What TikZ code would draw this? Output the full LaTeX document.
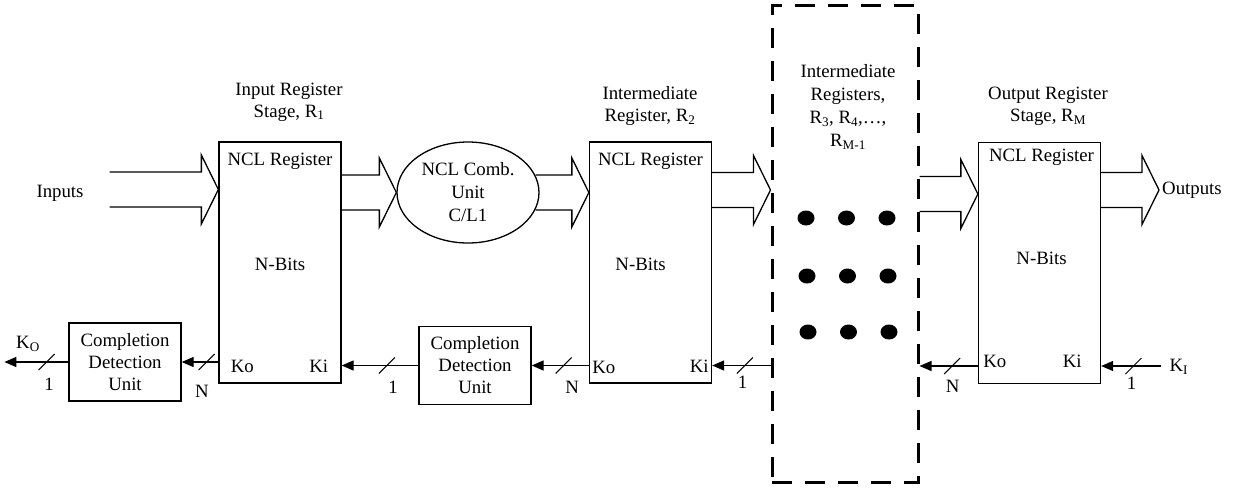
\documentclass[tikz,border=0pt]{standalone}
\usepackage{fontspec}
\setmainfont{Liberation Serif}
\usetikzlibrary{arrows.meta,calc,positioning,shapes.geometric}
\tikzset{
  reg/.style={draw,line width=1.3pt,minimum width=122pt,minimum height=241pt,inner sep=0pt},
  cdu/.style={draw,line width=1.3pt,align=center,inner sep=0pt,minimum width=112pt,minimum height=78pt},
  comb/.style={draw,ellipse,line width=1.3pt,minimum width=142pt,minimum height=101pt,align=center,inner sep=0pt},
  stagebox/.style={draw,line width=3pt,dash pattern=on 20pt off 13pt,minimum width=146pt,minimum height=477pt},
  lbl/.style={align=center,inner sep=0pt},
  bus/.style={line width=1.3pt,line join=miter},
  sig/.style={line width=1.3pt,-{Triangle[length=12pt,width=10pt]}},
  bitlbl/.style={inner sep=0pt},
  pics/bitslash/.style={code={\draw[-,line width=1pt] (-8,8) -- (8,-8);}}
}
% hollow bus arrow: #1 start (x only), #2 tip (gives the bus height)
\newcommand{\busarrow}[2]{%
  \draw[bus] let \p1=(#1), \p2=(#2) in
    (\x1,\y2+17.5pt) -- (\x2-17pt,\y2+17.5pt) -- (\x2-17pt,\y2+34.5pt) -- (\p2)
    -- (\x2-17pt,\y2-34.5pt) -- (\x2-17pt,\y2-17.5pt) -- (\x1,\y2-17.5pt);}

\begin{document}
\begin{tikzpicture}[x=1pt,y=-1pt,font=\fontsize{18.8}{22}\selectfont]
  \useasboundingbox (0,0) rectangle (1237,488);

  % registers and blocks
  \node[reg] (r1) at (280,262.5) {};
  \node[reg] (r2) at (650.5,262.5) {};
  \node[reg] (rm) at (1039.5,263) {};
  \node[comb] (cl1) at (468,192.5) {NCL Comb.\\[1pt]Unit\\[1pt]C/L1};
  \node[stagebox] (mid) at (845,243.5) {};
  \node[cdu] (cd1) at (125,362) {Completion\\Detection\\Unit};
  \node[cdu] (cd2) at (475,365.5) {Completion\\Detection\\Unit};

  % stage titles
  \node[lbl] (r1lbl) at (289,102) {Input Register\\Stage, R\textsubscript{1}};
  \node[lbl] (r2lbl) at (650,106) {Intermediate\\Register, R\textsubscript{2}};
  \node[lbl] (rmlbl) at (1048,106.5) {Output Register\\Stage, R\textsubscript{M}};
  \node[lbl] (midlbl) at (848,107) {Intermediate\\[1pt]Registers,\\[1pt]R\textsubscript{3}, R\textsubscript{4},\dots,\\[1pt]R\textsubscript{M-1}};

  % texts inside the registers
  \node[lbl] (r1head) at ($(r1.north)+(0,20)$) {NCL Register};
  \node[lbl] (r1bits) at ($(r1.center)+(0,1.5)$) {N-Bits};
  \node[lbl] (r1ko) at ($(r1.south west)+(24,-17)$) {Ko};
  \node[lbl] (r1ki) at ($(r1.south east)+(-23,-17)$) {Ki};
  \node[lbl] (r2head) at ($(r2.north)+(0,20)$) {NCL Register};
  \node[lbl] (r2bits) at ($(r2.center)+(-10,1.5)$) {N-Bits};
  \node[lbl] (r2ko) at ($(r2.south west)+(15,-16)$) {Ko};
  \node[lbl] (r2ki) at ($(r2.south east)+(-13,-17)$) {Ki};
  \node[lbl] (rmhead) at ($(rm.north)+(2,15)$) {NCL Register};
  \node[lbl] (rmbits) at ($(rm.center)+(2,-5)$) {N-Bits};
  \node[lbl] (rmko) at ($(rm.south west)+(17,-23)$) {Ko};
  \node[lbl] (rmki) at ($(rm.south east)+(-29,-23)$) {Ki};

  % dots for the hidden stages
  \foreach \yy/\xx in {218/806,276/807,332/808}
    \foreach \k in {0,1,2}
      \fill (\xx+40.5*\k,\yy) circle[x radius=8.5,y radius=7.5];

  % data path
  \node[lbl] (inp) at (60,193) {Inputs};
  \node[lbl,anchor=west,inner sep=3pt] (outp) at (1159,190) {Outputs};
  \coordinate (inpstart) at ($(inp.east)+(26,-3.5)$);
  \coordinate (r1in) at (r1.west |- inpstart);
  \coordinate (clout) at ($(cl1.east)+(-4,0)$);
  \coordinate (r2in) at (r2.west |- cl1.center);
  \coordinate (midin) at (mid.west |- 0,190);
  \coordinate (rmin) at (rm.west |- 0,194);
  \busarrow{inpstart}{r1in}
  \busarrow{r1.east}{cl1.west}
  \busarrow{clout}{r2in}
  \busarrow{r2.east}{midin}
  \busarrow{mid.east}{rmin}
  \busarrow{rm.east}{outp.west}

  % acknowledge path
  \coordinate (koend) at ($(cd1.west)+(-64,0)$);
  \coordinate (kistart) at (1161,366);
  \node[lbl] (kout) at (28,344) {K\textsubscript{O}};
  \draw[sig] (r1.west |- cd1.east) -- pic[pos=.32]{bitslash} node[bitlbl,pos=.45,below=23pt]{N} (cd1.east);
  \draw[sig] (cd1.west) -- pic[pos=.34]{bitslash} node[bitlbl,pos=.30,below=15pt]{1} (koend);
  \draw[sig] (r2.west |- cd2.east) -- pic[pos=.44]{bitslash} node[bitlbl,pos=.29,below=15pt]{N} (cd2.east);
  \draw[sig] (cd2.west) -- pic[pos=.41]{bitslash} node[bitlbl,pos=.33,below=15pt]{1} (r1.east |- cd2.west);
  \draw[sig] (mid.west |- cd2.west) -- pic[pos=.44]{bitslash} node[bitlbl,pos=.48,below=10pt]{1} (r2.east |- cd2.west);
  \draw[sig] (rm.west |- kistart) -- pic[pos=.44]{bitslash} node[bitlbl,pos=.43,below=14pt]{N} (mid.east |- kistart);
  \draw[sig] (kistart) node[lbl,anchor=west,xshift=8pt,yshift=-1pt]{K\textsubscript{I}}
    -- pic[pos=.46]{bitslash} node[bitlbl,pos=.49,below=10pt]{1} (rm.east |- kistart);
\end{tikzpicture}
\end{document}
